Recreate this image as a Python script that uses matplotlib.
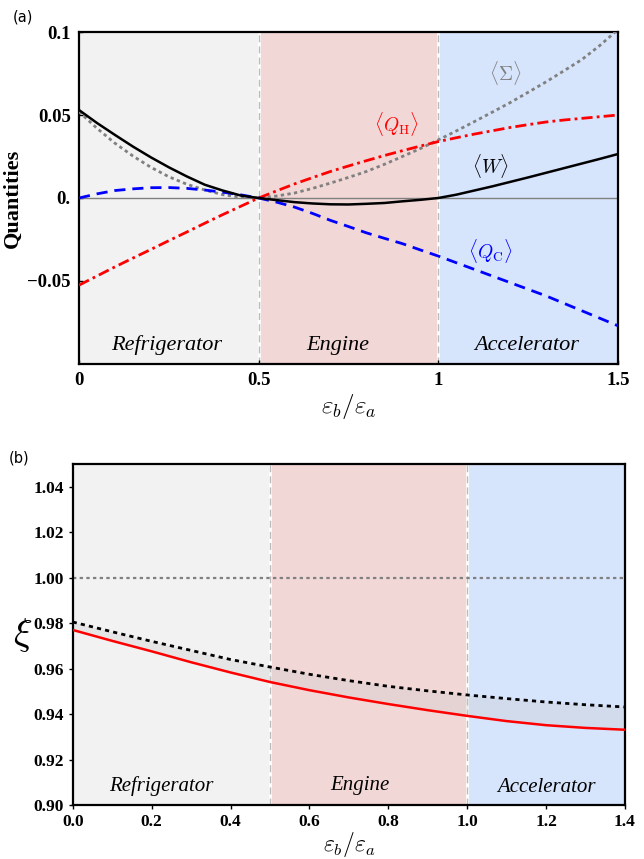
import numpy as np
import matplotlib
matplotlib.use("Agg")
import matplotlib.pyplot as plt

plt.rcParams['mathtext.fontset'] = 'cm'
plt.rcParams['font.family'] = 'Liberation Serif'

# --- panel (a) data ---
ratio_a = [0.0, 0.05, 0.1, 0.15, 0.2, 0.25, 0.3, 0.35, 0.4, 0.45, 0.5, 0.55, 0.6, 0.65, 0.7, 0.75,
           0.8, 0.85, 0.9, 0.95, 1.0, 1.05, 1.1, 1.15, 1.2, 1.25, 1.3, 1.35, 1.4, 1.45, 1.5]
work = [0.053, 0.0452, 0.038, 0.031, 0.0245, 0.0185, 0.013, 0.008, 0.0045, 0.0015, 0.0,
        -0.0013, -0.0025, -0.0033, -0.0038, -0.0039, -0.0035, -0.003, -0.002, -0.0011, 0.0,
        0.002, 0.0045, 0.007, 0.0097, 0.0124, 0.0152, 0.018, 0.0208, 0.0236, 0.0265]
heat_h = [-0.0525, -0.047, -0.0415, -0.0362, -0.031, -0.0257, -0.0205, -0.0152, -0.010, -0.005, 0.0,
          0.0043, 0.0085, 0.0123, 0.016, 0.0193, 0.0225, 0.0256, 0.0285, 0.0313, 0.034,
          0.0363, 0.0385, 0.0405, 0.0425, 0.0442, 0.0458, 0.047, 0.048, 0.049, 0.050]
heat_c = [0.0, 0.0025, 0.0045, 0.0055, 0.0062, 0.0063, 0.0058, 0.0048, 0.0035, 0.0019, 0.0,
          -0.0025, -0.0055, -0.0093, -0.0135, -0.0172, -0.021, -0.0243, -0.0275, -0.0313, -0.035,
          -0.039, -0.043, -0.047, -0.051, -0.055, -0.059, -0.0635, -0.068, -0.0725, -0.077]
sigma = [0.052, 0.042, 0.033, 0.0253, 0.0185, 0.0128, 0.0083, 0.0048, 0.002, 0.0005, 0.0,
         0.0012, 0.003, 0.0058, 0.009, 0.0124, 0.016, 0.0203, 0.025, 0.0298, 0.035,
         0.0404, 0.046, 0.0517, 0.0575, 0.0637, 0.070, 0.0767, 0.0835, 0.092, 0.1015]

# --- panel (b) data ---
ratio_b = [0.0, 0.1, 0.2, 0.3, 0.4, 0.5, 0.6, 0.7, 0.8, 0.9, 1.0, 1.1, 1.2, 1.3, 1.4]
xi_red = [0.977, 0.9722, 0.9676, 0.9628, 0.9583, 0.9541, 0.9505, 0.9473, 0.9444, 0.9417,
          0.9392, 0.9369, 0.9351, 0.9339, 0.9331]
xi_black = [0.9805, 0.9762, 0.972, 0.968, 0.964, 0.9607, 0.9575, 0.9547, 0.9522, 0.9502,
            0.9484, 0.9468, 0.9453, 0.9441, 0.9431]

regiones = ['Refrigerator', 'Engine', 'Accelerator']
colores = ['#f2f2f2', '#f2d7d7', '#d6e4fc']

fig = plt.figure(figsize=(6.44, 8.59), dpi=100)
ax1 = fig.add_axes([0.1227, 0.5763, 0.8369, 0.3864])
ax2 = fig.add_axes([0.1129, 0.0629, 0.8576, 0.3969])


def fondo(ax, xmax):
    limites = [0, 0.5, 1.0, xmax]
    for i in range(3):
        ax.axvspan(limites[i], limites[i + 1], color=colores[i], lw=0, zorder=0)
    for b in [0.5, 1.0]:
        ax.axvline(b, color='white', lw=2.0, zorder=1)
        ax.axvline(b, color='#bbbbbb', lw=1.0, ls=(0, (5, 3)), zorder=1)


# Panel (a)
fondo(ax1, 1.5)
ax1.axhline(0, color='gray', lw=1.0, zorder=2)
ax1.plot(ratio_a, sigma, color='gray', lw=2, ls=(0, (1.2, 1.2)), zorder=3)
ax1.plot(ratio_a, heat_h, color='red', lw=2, ls=(0, (4, 1.5, 1, 1.5)), zorder=3)
ax1.plot(ratio_a, heat_c, color='blue', lw=2, ls=(0, (4, 2.5)), zorder=3)
ax1.plot(ratio_a, work, color='black', lw=1.8, zorder=4)
ax1.set_xlim(0, 1.5)
ax1.set_ylim(-0.1, 0.1)
ax1.set_xticks([0, 0.5, 1, 1.5])
ax1.set_xticklabels(['0', '0.5', '1', '1.5'])
ax1.set_yticks([-0.05, 0, 0.05, 0.1])
ax1.set_yticklabels(['\u22120.05', '0.', '0.05', '0.1'])
ax1.tick_params(direction='in', length=3, width=1, labelsize=13.5, pad=6)
for lab in ax1.get_xticklabels() + ax1.get_yticklabels():
    lab.set_fontweight('bold')
ax1.set_ylabel('Quantities', fontsize=16, fontweight='bold')
ax1.yaxis.set_label_coords(-0.105, 0.5)
ax1.set_xlabel('$\\varepsilon_b/\\varepsilon_a$', fontsize=18, labelpad=2)
for s in ax1.spines.values():
    s.set_linewidth(1.6)

ax1.text(0.245, -0.0886, regiones[0], fontsize=16, style='italic', ha='center', va='center')
ax1.text(0.72, -0.0886, regiones[1], fontsize=16, style='italic', ha='center', va='center')
ax1.text(1.246, -0.0886, regiones[2], fontsize=16, style='italic', ha='center', va='center')
ax1.text(1.186, 0.0753, '$\\langle\\Sigma\\rangle$', color='gray', fontsize=14, ha='center', va='center')
ax1.text(0.885, 0.0446, '$\\langle Q_{\\rm H}\\rangle$', color='red', fontsize=14, ha='center', va='center')
ax1.text(1.144, 0.0193, '$\\langle W\\rangle$', color='black', fontsize=14, ha='center', va='center')
ax1.text(1.144, -0.032, '$\\langle Q_{\\rm C}\\rangle$', color='blue', fontsize=14, ha='center', va='center')

# Panel (b)
fondo(ax2, 1.4)
ax2.axhline(1.0, color='gray', lw=1.6, ls=(0, (1.5, 1.5)), zorder=2)
ax2.fill_between(ratio_b, xi_red, xi_black, color='#c8c8c8', alpha=0.3, lw=0, zorder=2)
ax2.plot(ratio_b, xi_black, color='black', lw=2, ls=(0, (1.5, 1.5)), zorder=3)
ax2.plot(ratio_b, xi_red, color='red', lw=1.8, zorder=3)
ax2.set_xlim(0, 1.4)
ax2.set_ylim(0.9, 1.05)
ax2.set_xticks(np.arange(0, 1.41, 0.2))
ax2.set_xticklabels(['0.0', '0.2', '0.4', '0.6', '0.8', '1.0', '1.2', '1.4'])
ax2.set_yticks([0.90, 0.92, 0.94, 0.96, 0.98, 1.00, 1.02, 1.04])
ax2.set_yticklabels(['0.90', '0.92', '0.94', '0.96', '0.98', '1.00', '1.02', '1.04'])
ax2.tick_params(direction='out', length=3, width=1, labelsize=12.5)
for lab in ax2.get_xticklabels() + ax2.get_yticklabels():
    lab.set_fontweight('bold')
ax2.set_ylabel('$\\xi$', fontsize=28, rotation=0, va='center')
ax2.yaxis.set_label_coords(-0.09, 0.5)
ax2.set_xlabel('$\\varepsilon_b/\\varepsilon_a$', fontsize=17, labelpad=0)
for s in ax2.spines.values():
    s.set_linewidth(1.6)
ax2.text(0.225, 0.9085, regiones[0], fontsize=15, style='italic', ha='center', va='center')
ax2.text(0.727, 0.9085, regiones[1], fontsize=15, style='italic', ha='center', va='center')
ax2.text(1.2, 0.9075, regiones[2], fontsize=15, style='italic', ha='center', va='center')

fig.text(0.02, 0.98, '(a)', fontsize=10.5, family='DejaVu Sans', va='center')
fig.text(0.014, 0.467, '(b)', fontsize=10.5, family='DejaVu Sans', va='center')

fig.savefig('out.png', dpi=100)
